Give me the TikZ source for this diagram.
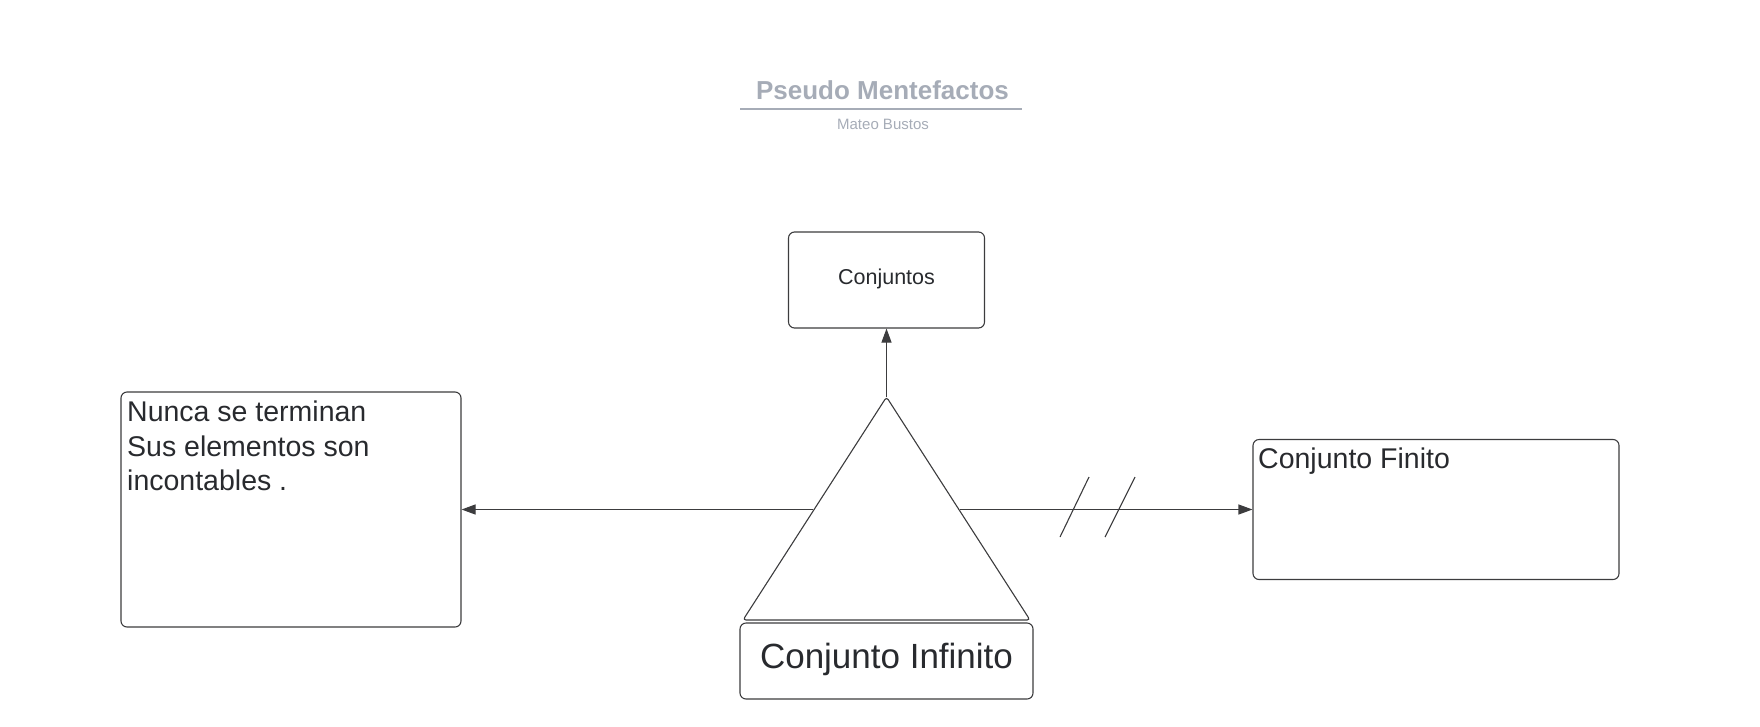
\documentclass[tikz,border=0pt]{standalone}
\usepackage{fontspec}
\setmainfont{Liberation Sans}
\usetikzlibrary{arrows.meta}
\definecolor{titlegray}{RGB}{166,172,183}
\definecolor{ink}{RGB}{40,42,46}
\definecolor{edge}{RGB}{60,60,62}
\tikzset{
  box/.style={draw=edge, line width=1.1pt, rounded corners=6pt, inner sep=0pt},
  conn/.style={draw=edge, line width=1.1pt, -{Triangle[length=14pt,width=10pt]}},
  txt/.style={text=ink, inner sep=0pt},
}
\begin{document}
\begin{tikzpicture}[x=1pt,y=-1pt]
\useasboundingbox (0,0) rectangle (1760,726);
% title
\node[txt, text=titlegray, anchor=base, font=\bfseries\fontsize{26}{30}\selectfont] (title) at (882.5,99) {Pseudo Mentefactos};
\draw[titlegray, line width=1.5pt] (740,109) -- (1022,109);
\node[txt, text=titlegray, anchor=base, font=\fontsize{15}{18}\selectfont] (sub) at (883,129) {Mateo Bustos};
% boxes
\node[box, minimum width=196pt, minimum height=96pt] (cbox) at (886.5,280) {};
\node[txt, anchor=base, font=\fontsize{21.5}{26}\selectfont] (ctext) at (886.5,284) {Conjuntos};
\node[box, minimum width=340pt, minimum height=235pt] (lbox) at (291,509.5) {};
\node[txt, anchor=north west, align=left, font=\fontsize{28.5}{34.5}\selectfont] (ltext) at (127,401) {Nunca se terminan\\Sus elementos son\\incontables .};
\node[box, minimum width=366pt, minimum height=140pt] (rbox) at (1436,509.5) {};
\node[txt, anchor=north west, font=\fontsize{28.5}{34}\selectfont] (rtext) at (1258,448) {Conjunto Finito};
\node[box, minimum width=293pt, minimum height=76pt] (ibox) at (886.5,661) {};
\node[txt, anchor=base, font=\fontsize{35}{40}\selectfont] (itext) at (886.5,668) {Conjunto Infinito};
% triangle
\draw[edge, line width=1.1pt, rounded corners=3pt] (743,620) -- (886.5,397) -- (1030,620) -- cycle;
\coordinate (apex) at (886.5,397);
\coordinate (tl) at (813,509.5);
\coordinate (tr) at (960,509.5);
% connectors
\draw[conn] (apex) -- (cbox.south);
\draw[conn] (tl) -- (lbox.east);
\draw[conn] (tr) -- (rbox.west);
% hash marks
\draw[edge, line width=1.1pt] (1089,477) -- (1060,537);
\draw[edge, line width=1.1pt] (1135,477) -- (1105,537);
\end{tikzpicture}
\end{document}
